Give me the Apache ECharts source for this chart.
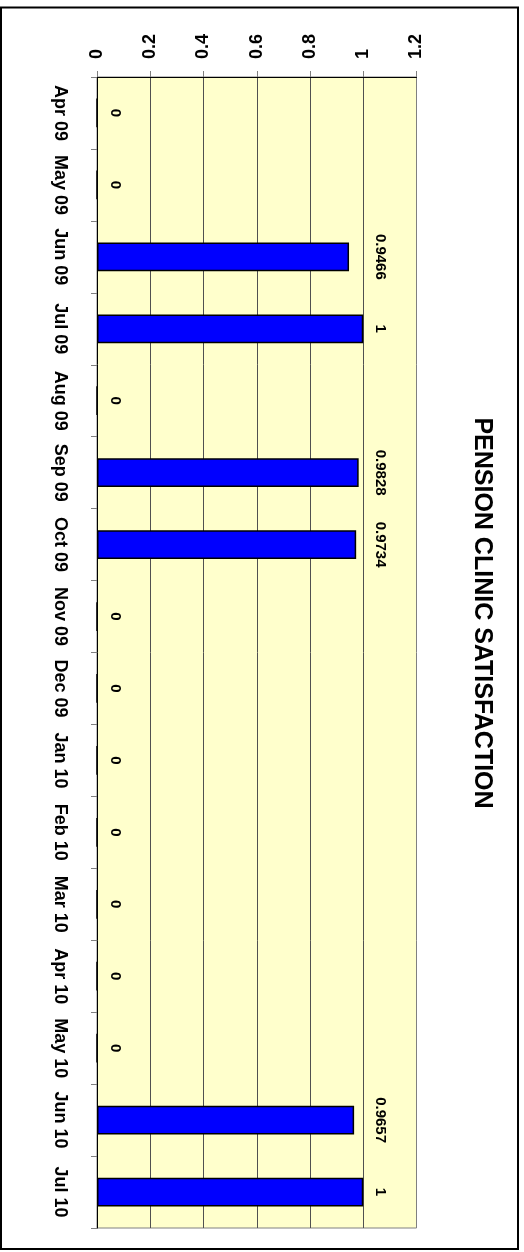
<!DOCTYPE html>
<html>
<head>
<meta charset="utf-8">
<title>Pension Clinic Satisfaction</title>
<script src="https://cdn.jsdelivr.net/npm/echarts@6/dist/echarts.min.js"></script>
<style>
  html, body { margin: 0; padding: 0; background: #ffffff; }
  #chart { width: 524px; height: 1252px; }
</style>
</head>
<body>
<div id="chart"></div>
<script>
// Monthly satisfaction scores (share of satisfied clients)
const months = ['Apr 09', 'May 09', 'Jun 09', 'Jul 09', 'Aug 09', 'Sep 09', 'Oct 09', 'Nov 09',
                'Dec 09', 'Jan 10', 'Feb 10', 'Mar 10', 'Apr 10', 'May 10', 'Jun 10', 'Jul 10'];
const satisfaction = [0, 0, 0.9466, 1, 0, 0.9828, 0.9734, 0, 0, 0, 0, 0, 0, 0, 0.9657, 1];
const valueTicks = [0, 0.2, 0.4, 0.6, 0.8, 1, 1.2];
const chartTitle = 'PENSION CLINIC SATISFACTION';

const FONT = "'Liberation Sans', Arial, Helvetica, sans-serif";
const GRID = { left: 97, top: 77, width: 319.5, height: 1151 };
const VMIN = valueTicks[0];
const VMAX = valueTicks[valueTicks.length - 1];
const STEP = valueTicks[1] - valueTicks[0];
const xAt = v => GRID.left + (v - VMIN) / (VMAX - VMIN) * GRID.width;

const chart = echarts.init(document.getElementById('chart'), null, { renderer: 'canvas' });

chart.setOption({
  animation: false,
  backgroundColor: '#ffffff',
  grid: {
    left: GRID.left, top: GRID.top, width: GRID.width, height: GRID.height,
    show: true, backgroundColor: '#FFFFCC', borderColor: '#808080', borderWidth: 1
  },
  xAxis: {
    type: 'value', position: 'top',
    min: VMIN, max: VMAX, interval: STEP,
    axisLine: { show: true, lineStyle: { color: '#000000', width: 1 } },
    axisTick: { show: true, length: 6, lineStyle: { color: '#808080', width: 1 } },
    axisLabel: {
      rotate: -90, margin: 18, color: '#000000',
      fontFamily: FONT, fontSize: 18, fontWeight: 'bold'
    },
    splitLine: { show: true, showMinLine: false, showMaxLine: false,
                 lineStyle: { color: '#505050', width: 1 } }
  },
  yAxis: {
    type: 'category', data: months, inverse: true, position: 'left',
    axisLine: { show: true, lineStyle: { color: '#000000', width: 1 } },
    axisTick: { show: true, length: 6, lineStyle: { color: '#808080', width: 1 } },
    axisLabel: {
      rotate: -90, margin: 28, interval: 0, color: '#000000',
      fontFamily: FONT, fontSize: 18, fontWeight: 'bold'
    },
    splitLine: { show: false }
  },
  series: [{
    type: 'bar',
    data: satisfaction,
    barWidth: '40%',
    itemStyle: { color: '#0000FF', borderColor: '#000000', borderWidth: 1.5 },
    label: {
      show: true, rotate: -90, color: '#000000',
      fontFamily: FONT, fontSize: 15, fontWeight: 'bold'
    },
    // value labels sit in a column just past the 1.0 line; zero values near the base
    labelLayout: p => {
      const v = satisfaction[p.dataIndex];
      return {
        x: v > 0 ? xAt(1) + 17 : xAt(0) + 18.5,
        y: p.rect.y + p.rect.height / 2,
        align: 'center',
        verticalAlign: 'middle'
      };
    }
  }],
  graphic: [
    {
      type: 'rect', silent: true, z: 100,
      shape: { x: 1, y: 7.5, width: 517, height: 1241.5 },
      style: { fill: null, stroke: '#000000', lineWidth: 2 }
    },
    {
      type: 'text', silent: true,
      x: 482, y: 613, rotation: -Math.PI / 2,
      style: {
        text: chartTitle, fill: '#000000',
        fontFamily: FONT, fontSize: 25, fontWeight: 'bold',
        align: 'center', verticalAlign: 'middle'
      }
    }
  ]
});
</script>
</body>
</html>
